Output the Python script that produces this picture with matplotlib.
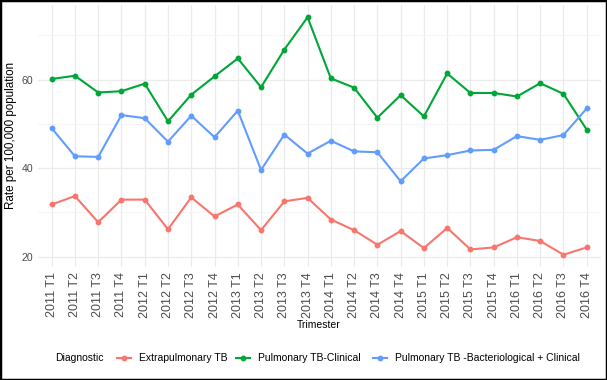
import matplotlib
matplotlib.use("Agg")
import matplotlib.pyplot as plt
from matplotlib.lines import Line2D
from matplotlib.patches import Rectangle
from matplotlib import font_manager as fm

plt.rcParams['font.family'] = ['Liberation Sans', 'DejaVu Sans']

_names = set(f.name for f in fm.fontManager.ttflist)
if 'Liberation Sans Narrow' in _names:
    HFAM, HSCALE = ['Liberation Sans Narrow', 'DejaVu Sans'], 1.0 / 0.82
else:
    HFAM, HSCALE = ['Liberation Sans', 'DejaVu Sans'], 1.0

periods = [f"{y} T{q}" for y in range(2011, 2017) for q in range(1, 5)]

extrapulmonary = [31.8, 33.7, 27.8, 32.9, 32.9, 26.2, 33.4, 29.1, 31.8, 26.0, 32.5, 33.3,
                  28.4, 26.0, 22.7, 25.8, 21.95, 26.5, 21.65, 22.1, 24.4, 23.55, 20.45, 22.1]
pulmonary_clinical = [60.15, 60.9, 57.1, 57.4, 59.1, 50.6, 56.6, 60.75, 64.8, 58.3, 66.8, 74.1,
                      60.3, 58.2, 51.4, 56.5, 51.7, 61.4, 57.0, 57.0, 56.2, 59.2, 56.8, 48.7]
pulmonary_bact_clin = [49.05, 42.7, 42.55, 52.0, 51.3, 46.0, 51.85, 47.0, 53.0, 39.6, 47.6, 43.3,
                       46.2, 43.8, 43.6, 37.05, 42.2, 42.95, 44.0, 44.15, 47.25, 46.4, 47.5, 53.5]

series_names = ["Extrapulmonary TB", "Pulmonary TB-Clinical", "Pulmonary TB -Bacteriological + Clinical"]
series_vals = [extrapulmonary, pulmonary_clinical, pulmonary_bact_clin]
colors = ["#F8766D", "#00A638", "#619CFF"]

W, H = 607, 380
fig = plt.figure(figsize=(W / 100, H / 100), dpi=100)
ax = fig.add_axes([37.7 / W, 1 - 266.6 / H, (600.7 - 37.7) / W, (266.6 - 5.4) / H])

x = list(range(len(periods)))
for name, vals, c in zip(series_names, series_vals, colors):
    ax.plot(x, vals, color=c, lw=1.5, marker='o', markersize=3.2, label=name, zorder=3)

allv = extrapulmonary + pulmonary_clinical + pulmonary_bact_clin
lo, hi = min(allv), max(allv)
pad = (hi - lo) * 0.05
ax.set_ylim(lo - pad, hi + pad)
ax.set_xlim(-0.6, len(periods) - 1 + 0.6)

ax.set_xticks(x)
ax.set_xticklabels(periods, rotation=90, fontsize=9, color='#4D4D4D')
ax.set_yticks([20, 40, 60])
ax.set_yticklabels(['20', '40', '60'], fontsize=7.6 * HSCALE, color='#4D4D4D', family=HFAM)
ax.set_yticks([30, 50, 70], minor=True)
ax.tick_params(axis='x', length=0, pad=3.9)
ax.tick_params(axis='y', length=0, pad=3.4)
ax.tick_params(axis='y', which='minor', length=0)
ax.grid(True, which='major', color='#EBEBEB', lw=0.9, zorder=0)
ax.grid(True, which='minor', axis='y', color='#F3F3F3', lw=0.6, zorder=0)
for s in ax.spines.values():
    s.set_visible(False)

fig.text(11 / W, 1 - 135.5 / H, "Rate per 100,000 population", fontsize=8.4,
         rotation=90, ha='center', va='center')
fig.text(318.5 / W, 1 - 325 / H, "Trimester", fontsize=7.5 * HSCALE, family=HFAM,
         ha='center', va='center')

# legend
ly = 1 - 358 / H
fs = 7.5 * HSCALE
fig.text(55 / W, ly, "Diagnostic", fontsize=fs, family=HFAM, ha='left', va='center')
key_x = [(117, 131), (236, 250), (373, 387)]
text_x = [139, 258, 395]
for (k0, k1), tx, name, c in zip(key_x, text_x, series_names, colors):
    fig.add_artist(Line2D([k0 / W, k1 / W], [ly, ly], transform=fig.transFigure,
                          color=c, lw=1.5))
    fig.add_artist(Line2D([(k0 + k1) / 2 / W], [ly], transform=fig.transFigure,
                          color=c, marker='o', markersize=3.2, lw=0))
    fig.text(tx / W, ly, name, fontsize=fs, family=HFAM, ha='left', va='center')

fig.patches.append(Rectangle((0, 0), 1, 1, transform=fig.transFigure, fill=False,
                             edgecolor='black', lw=2.5, zorder=10))

fig.savefig("out.png", dpi=100, facecolor='white')
